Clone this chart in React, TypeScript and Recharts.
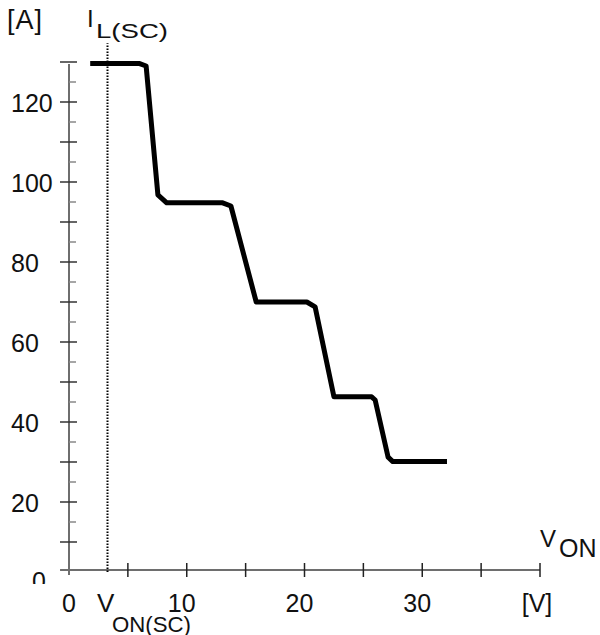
import React from 'react'
import { LineChart, Line, XAxis, YAxis, ReferenceLine } from 'recharts'

// short-circuit load current vs. on-state voltage
const voltage = [1.8, 6.0, 6.55, 7.55, 8.3, 13.05, 13.75, 15.9, 20.2, 20.9, 22.5, 25.7, 26.0, 27.1, 27.5, 32.1]
const current = [129.6, 129.6, 129, 96.8, 94.8, 94.8, 94, 70, 70, 68.8, 46.3, 46.3, 45.5, 31.2, 30.1, 30.1]

const xTicks = [0, 5, 10, 15, 20, 25, 30, 35, 40]
const xTickLabels: Record<number, string> = { 0: '0', 10: '10', 20: '20', 30: '30', 40: '[V]' }
const yTicks = [0, 5, 10, 15, 20, 25, 30, 35, 40, 45, 50, 55, 60, 65, 70, 75, 80, 85, 90, 95, 100, 105, 110, 115, 120, 125, 130]
const yTickLabels = [0, 20, 40, 60, 80, 100, 120]

const scVoltage = 3.27
const axisCurrent = 3

const data = voltage.map((v, i) => ({ v, i: current[i] }))

const FONT = '"Liberation Sans", Arial, Helvetica, sans-serif'

const XTick = ({ x, y, payload }: any) => {
  const val = payload.value
  const label = xTickLabels[val]
  const dx = val === 0 ? 0 : val === 40 ? -3 : -5
  return (
    <g>
      {val > 0 && <line x1={x} x2={x} y1={y - 19} y2={y - 5} stroke="#222" strokeWidth={1.5} />}
      {label && (
        <text x={x + dx} y={y + 30} textAnchor="middle" fontSize={25} fontFamily={FONT} fill="#111">
          {label}
        </text>
      )}
    </g>
  )
}

const YTick = ({ x, y, payload }: any) => {
  const val = payload.value
  const major = val % 10 === 0
  const showLabel = yTickLabels.includes(val)
  return (
    <g>
      {val >= 10 && major && <line x1={x - 9} x2={x + 8} y1={y} y2={y} stroke="#333" strokeWidth={1.5} />}
      {val >= 10 && !major && <line x1={x} x2={x + 7} y1={y} y2={y} stroke="#888" strokeWidth={1.5} />}
      {showLabel && val === 0 && (
        <g>
          <defs>
            <clipPath id="zeroClip">
              <rect x={x - 50} y={y - 20} width={40} height={22} />
            </clipPath>
          </defs>
          <text x={x - 37} y={y + 8} fontSize={25} fontFamily={FONT} fill="#111" clipPath="url(#zeroClip)">0</text>
        </g>
      )}
      {showLabel && val > 0 && (
        <text x={x - 58} y={y + 9.5} fontSize={25} fontFamily={FONT} fill="#111">{val}</text>
      )}
    </g>
  )
}

export default function App() {
  return (
    <div style={{ position: 'absolute', left: 0, top: 0, width: 600, height: 635, background: '#fff' }}>
      <LineChart width={600} height={635} data={data} margin={{ top: 62, right: 60, left: 0, bottom: 0 }}>
        <XAxis
          dataKey="v" type="number" domain={[0, 40]} ticks={xTicks} interval={0}
          height={53} axisLine={false} tickLine={false} tickSize={0} tickMargin={0}
          tick={<XTick />}
        />
        <YAxis
          type="number" domain={[0, 130]} ticks={yTicks} interval={0}
          width={69} axisLine={false} tickLine={false} tickSize={0} tickMargin={0}
          tick={<YTick />}
        />
        {/* axis lines */}
        <ReferenceLine segment={[{ x: -0.76, y: axisCurrent }, { x: 40, y: axisCurrent }]} stroke="#6e6e6e" strokeWidth={2} ifOverflow="visible" />
        <ReferenceLine segment={[{ x: 0, y: 1.75 }, { x: 0, y: 129.5 }]} stroke="#6e6e6e" strokeWidth={2} ifOverflow="visible" />
        {/* V_ON(SC) marker */}
        <ReferenceLine segment={[{ x: scVoltage, y: 2.5 }, { x: scVoltage, y: 134.7 }]} stroke="#000" strokeWidth={2} strokeDasharray="1.5 1.5" ifOverflow="visible" />
        <Line
          dataKey="i" type="linear" stroke="#000" strokeWidth={5} dot={false}
          strokeLinejoin="round" isAnimationActive={false}
        />
      </LineChart>
      <svg width={600} height={635} style={{ position: 'absolute', left: 0, top: 0, pointerEvents: 'none' }}>
        <g fontFamily={FONT} fill="#111">
          <text x={7} y={29} fontSize={27} letterSpacing={1}>[A]</text>
          <text x={87} y={27} fontSize={24}>I</text>
          <text x={96} y={38} fontSize={20} textLength={72} lengthAdjust="spacingAndGlyphs">L(SC)</text>
          <text x={540} y={547} fontSize={24}>V</text>
          <text x={559} y={557} fontSize={25}>ON</text>
          <text x={97} y={612} fontSize={26}>V</text>
          <text x={112} y={632} fontSize={22} textLength={79} lengthAdjust="spacingAndGlyphs">ON(SC)</text>
        </g>
      </svg>
    </div>
  )
}
